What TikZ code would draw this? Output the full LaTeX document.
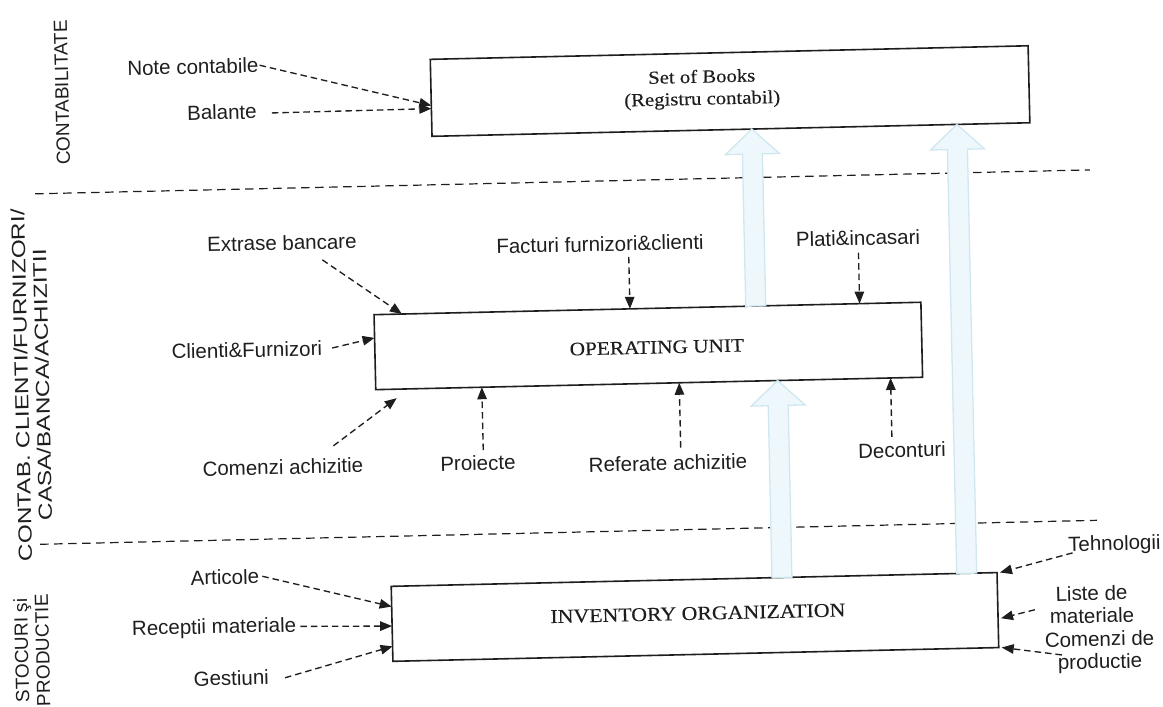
\documentclass[tikz,border=0pt]{standalone}
\usepackage{fontspec}
\setmainfont{Liberation Sans}
\newfontfamily\boxfont[FakeStretch=1.12,FakeBold=0.3]{Liberation Serif}
\newfontfamily\widefont[FakeStretch=1.28]{Liberation Sans}
\usetikzlibrary{arrows.meta,calc}
\definecolor{ink}{HTML}{1E1E1E}
\definecolor{bafill}{HTML}{EEF8FC}
\definecolor{badraw}{HTML}{D0E7F0}
\begin{document}
\begin{tikzpicture}[x=1pt,y=-1pt,
  box/.style={draw=ink, line width=1.6pt, fill=white, inner sep=0pt, outer sep=0pt},
  btxt/.style={font=\boxfont\fontsize{19}{22}\selectfont, text=ink, inner sep=0pt, align=center},
  lab/.style={font=\fontsize{20.5}{22.5}\selectfont, text=ink, inner sep=1pt, align=center},
  vlab/.style={font=\fontsize{19}{21}\selectfont, text=ink, inner sep=0pt, align=center, rotate=90},
  darr/.style={draw=ink, line width=1.35pt, dash pattern=on 6.5pt off 4pt, -{Triangle[length=12pt,width=9.5pt]}},
  sep/.style={draw=ink, line width=1.2pt, dash pattern=on 8.5pt off 5.5pt},
  barrow/.style={fill=bafill, draw=badraw, line width=1.3pt, line join=miter}]
\useasboundingbox (7.86,-13.27) rectangle (1170.86,693.73);
\begin{scope}[rotate=1.3, transform shape]
% separators
\coordinate (s1a) at (39,181.5); \coordinate (s1b) at (1094,181.5);
\coordinate (s2a) at (36,532); \coordinate (s2b) at (1093,532);
\draw[sep] (s1a) -- (s1b);
\draw[sep] (s2a) -- (s2b);
% boxes
\node[box, minimum width=598pt, minimum height=77pt] (sob) at (736,94.5) {};
\node[box, minimum width=547pt, minimum height=75pt] (ou) at (648.5,347.5) {};
\node[box, minimum width=606pt, minimum height=75pt] (inv) at (689,619.5) {};
\node[btxt, font=\boxfont\fontsize{18.5}{22}\selectfont] (sobt) at (708,92) {Set of Books\\(Registru contabil)};
\node[btxt] (out) at (657,349) {OPERATING UNIT};
\node[btxt, font=\boxfont\fontsize{19.5}{22}\selectfont] (invt) at (692,616) {INVENTORY ORGANIZATION};
% block arrows
\coordinate (t1) at ($(sob.south west)!0.535!(sob.south east)$);
\coordinate (b1) at ($(ou.north west)!0.698!(ou.north east)$);
\coordinate (t2) at ($(sob.south west)!0.878!(sob.south east)$);
\coordinate (b2) at ($(inv.north west)!0.950!(inv.north east)$);
\coordinate (t3) at ($(ou.south west)!0.735!(ou.south east)$);
\coordinate (b3) at ($(inv.north west)!0.645!(inv.north east)$);
\foreach \t/\b in {t1/b1,t2/b2,t3/b3}{
  \draw[barrow] ($(\b)+(-10,0)$) -- ($(\t)+(-10,25)$) -- ($(\t)+(-27,25)$) -- (\t)
     -- ($(\t)+(27,25)$) -- ($(\t)+(10,25)$) -- ($(\b)+(10,0)$) -- cycle;
}
% vertical labels
\node[vlab] (vcont) at (68,81) {CONTABILITATE};
\node[vlab, font=\widefont\fontsize{19}{21}\selectfont] (vclient) at (31.3,372.5) {CONTAB. CLIENTI/FURNIZORI/\\CASA/BANCA/ACHIZITII};
\node[vlab] (vstoc) at (25.3,638) {STOCURI şi\\PRODUCTIE};
% labels
\node[lab] (note) at (199.5,58) {Note contabile};
\node[lab] (balante) at (227.5,104) {Balante};
\node[lab] (extrase) at (284.5,236) {Extrase bancare};
\node[lab] (facturi) at (602.5,244.5) {Facturi furnizori\&clienti};
\node[lab] (plati) at (860.6,244.3) {Plati\&incasari};
\node[lab] (clienti) at (247,342.4) {Clienti\&Furnizori};
\node[lab] (comA) at (280.4,460.2) {Comenzi achizitie};
\node[lab] (proiecte) at (475.5,460.7) {Proiecte};
\node[lab] (referate) at (665.5,465) {Referate achizitie};
\node[lab] (deconturi) at (899.8,457.3) {Deconturi};
\node[lab] (articole) at (220,569) {Articole};
\node[lab] (receptii) at (208,620) {Receptii materiale};
\node[lab] (gestiuni) at (224,670) {Gestiuni};
\node[lab] (tehn) at (1110,557) {Tehnologii};
\node[lab] (liste) at (1086,616) {Liste de\\materiale};
\node[lab] (comP) at (1093,663.8) {Comenzi de\\productie};
% dashed connectors
\draw[darr] (note.east) -- ($(sob.north west)!0.6!(sob.south west)$);
\draw[darr] ($(balante.east)+(14,2)$) -- ($(sob.north west)!0.64!(sob.south west)$);
\draw[darr] ($(extrase.center)+(40,18)$) -- ($(ou.north west)!0.051!(ou.north east)$);
\coordinate (fT) at ($(ou.north west)!0.468!(ou.north east)$);
\draw[darr] ($(fT)+(0,-52)$) -- (fT);
\coordinate (pT) at ($(ou.north west)!0.888!(ou.north east)$);
\draw[darr] ($(pT)+(0,-51)$) -- (pT);
\draw[darr] ($(clienti.east)+(9,0)$) -- ($(ou.north west)!0.31!(ou.south west)$);
\draw[darr] ($(comA.center)+(51,-20)$) -- ($(ou.south west)!0.038!(ou.south east)+(0,9)$);
\coordinate (prT) at ($(ou.south west)!0.194!(ou.south east)$);
\draw[darr] ($(prT)+(0,63)$) -- (prT);
\coordinate (rT) at ($(ou.south west)!0.555!(ou.south east)$);
\draw[darr] ($(rT)+(0,65)$) -- (rT);
\coordinate (dT) at ($(ou.south west)!0.9415!(ou.south east)$);
\draw[darr] ($(dT)+(0,59)$) -- (dT);
\draw[darr] ($(articole.east)+(2,0)$) -- ($(inv.north west)!0.27!(inv.south west)$);
\draw[darr] ($(receptii.east)+(3,0)$) -- ($(inv.north west)!0.53!(inv.south west)$);
\draw[darr] ($(gestiuni.east)+(15,1)$) -- ($(inv.north west)!0.8!(inv.south west)$);
\draw[darr] ($(tehn.center)+(-42,7)$) -- ($(inv.north east)+(3,0)$);
\draw[darr] ($(liste.center)+(-57,4)$) -- ($(inv.north east)!0.61!(inv.south east)+(3,0)$);
\draw[darr] ($(comP.center)+(-38,2)$) -- ($(inv.south east)+(3,0)$);
\end{scope}
\end{tikzpicture}
\end{document}
